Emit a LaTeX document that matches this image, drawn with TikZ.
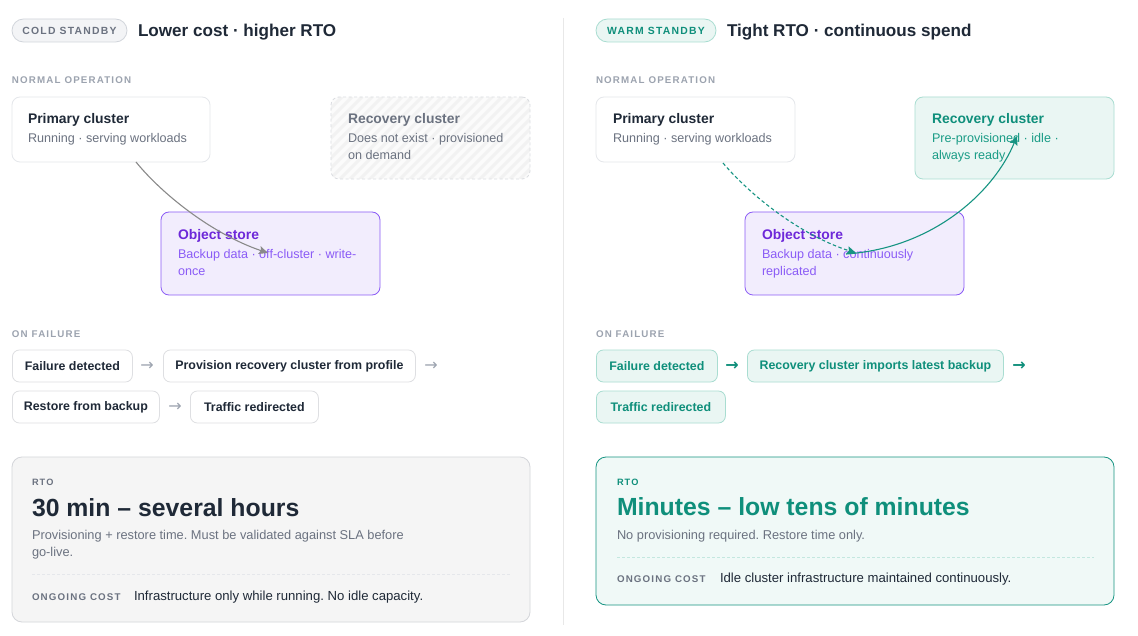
\documentclass[tikz,border=0pt]{standalone}
\usepackage{fontspec}
\setmainfont{Liberation Sans}
\newfontfamily\spacedfont[LetterSpace=12]{Liberation Sans}
\newfontfamily\arrowfont{DejaVu Sans}
\usetikzlibrary{arrows.meta}
\frenchspacing
\definecolor{ink}{HTML}{1F2937}
\definecolor{muted}{HTML}{6B7280}
\definecolor{faint}{HTML}{9CA3AF}
\definecolor{cardline}{HTML}{E5E7EB}
\definecolor{stepline}{HTML}{DEDFE2}
\definecolor{pillbg}{HTML}{F3F4F6}
\definecolor{pillbd}{HTML}{D1D5DB}
\definecolor{tealtx}{HTML}{0F8F7B}
\definecolor{tealsub}{HTML}{1A9C86}
\definecolor{tealbg}{HTML}{EAF6F3}
\definecolor{tealbd}{HTML}{A9DDD1}
\definecolor{tealline}{HTML}{169482}
\definecolor{purpbd}{HTML}{8B5CF6}
\definecolor{purptx}{HTML}{6D28D9}
\definecolor{purpsub}{HTML}{8B5CF6}
\definecolor{purpbg}{HTML}{F2EDFD}
\definecolor{hatchbg}{HTML}{FBFBFB}
\definecolor{hatchln}{HTML}{F2F2F2}
\definecolor{hatchbd}{HTML}{DADCE0}
\definecolor{rtobg}{HTML}{F5F5F5}
\definecolor{rtobd}{HTML}{D4D6DA}
\definecolor{sepline}{HTML}{E8E8E8}
\definecolor{arrowgray}{HTML}{8A8A8A}
\begin{document}
\begin{tikzpicture}[x=1pt,y=-1pt,
  lbl/.style={anchor=base west, inner sep=0, outer sep=0},
  ctitle/.style={lbl, font=\bfseries\fontsize{13.9}{16}\selectfont, text=ink},
  csub/.style={lbl, font=\fontsize{12.6}{15}\selectfont, text=muted},
  caps/.style={lbl, font=\spacedfont\bfseries\fontsize{9.75}{11}\selectfont, text=faint},
  headline/.style={lbl, font=\bfseries\fontsize{17.1}{20}\selectfont, text=ink},
  pill/.style={draw=pillbd, fill=pillbg, rounded corners=11.5pt, line width=0.8pt, minimum height=23, inner sep=0,
     font=\spacedfont\bfseries\fontsize{10.4}{12}\selectfont, text=muted},
  card/.style={draw=cardline, fill=white, rounded corners=8pt, line width=0.8pt, anchor=north west, inner sep=0, outer sep=0},
  stepL/.style={draw=stepline, fill=white, rounded corners=7pt, line width=0.8pt, anchor=west, minimum height=32,
     inner sep=0, font=\bfseries\fontsize{12.4}{14}\selectfont, text=ink},
  stepR/.style={stepL, draw=tealbd, fill=tealbg, text=tealtx},
  arrowtxtL/.style={inner sep=0, font=\arrowfont\fontsize{16}{18}\selectfont, text=faint},
  arrowtxtR/.style={inner sep=0, font=\arrowfont\bfseries\fontsize{16}{18}\selectfont, text=tealtx},
  bigtxt/.style={lbl, font=\bfseries\fontsize{24.8}{28}\selectfont, text=ink},
  desc/.style={lbl, font=\fontsize{12.8}{15}\selectfont, text=muted},
  costtxt/.style={lbl, font=\fontsize{13.15}{15}\selectfont, text=ink},
  flow/.style={line width=1.1pt, -{Stealth[length=9pt,width=8pt,inset=1.5pt]}}
]
\useasboundingbox[fill=white] (0,0) rectangle (1138,636);

% column separator
\draw[sepline, line width=0.8pt] (563,18) -- (563,625);

% ================= LEFT: COLD STANDBY =================
\node[pill, minimum width=115] (lpill) at (69.5,30.5) {COLD STANDBY};
\node[headline] (lhead) at (138,37) {Lower cost · higher RTO};
\node[caps] (lnorm) at (12,83.5) {NORMAL OPERATION};

\node[card, minimum width=198, minimum height=65] (lprim) at (12,97) {};
\node[ctitle] (lprimt) at (28,123.5) {Primary cluster};
\node[csub] (lprims) at (28,142.5) {Running · serving workloads};

% hatched recovery cluster
\begin{scope}
  \clip[rounded corners=8pt] (331,97) rectangle (530,179);
  \fill[hatchbg] (331,97) rectangle (530,179);
  \foreach \i in {240,250,...,540} {
    \draw[hatchln, line width=3pt] (\i,179) -- ++(82,-82);
  }
\end{scope}
\node[card, fill=none, draw=hatchbd, dash pattern=on 3pt off 2.5pt, minimum width=199, minimum height=82] (lrec) at (331,97) {};
\node[ctitle, text=muted] (lrect) at (348,123.5) {Recovery cluster};
\node[csub] (lrecs1) at (348,142.5) {Does not exist · provisioned};
\node[csub] (lrecs2) at (348,159.5) {on demand};

\node[card, draw=purpbd, fill=purpbg, minimum width=219, minimum height=83] (lobj) at (161,212) {};
\node[ctitle, text=purptx] (lobjt) at (178,239.5) {Object store};
\node[csub, text=purpsub] (lobjs1) at (178,258.5) {Backup data · off-cluster · write-};
\node[csub, text=purpsub] (lobjs2) at (178,275.5) {once};

\coordinate (lstart) at (136,162);
\coordinate (lend) at (268,253);
\draw[flow, arrowgray] (lstart) .. controls (162,194) and (212,234) .. (lend);

% on failure
\node[caps] (lfail) at (12,337.5) {ON FAILURE};
\node[stepL, minimum width=120] (ls1) at (12,366) {Failure detected};
\node[arrowtxtL] (la1) at (147,366) {→};
\node[stepL, minimum width=252] (ls2) at (163,366) {Provision recovery cluster from profile};
\node[arrowtxtL] (la2) at (431,366) {→};
\node[stepL, minimum width=147] (ls3) at (12,407) {Restore from backup};
\node[arrowtxtL] (la3) at (175,407) {→};
\node[stepL, minimum width=128] (ls4) at (190,407) {Traffic redirected};

% RTO card
\node[card, draw=rtobd, fill=rtobg, rounded corners=10pt, minimum width=518, minimum height=165] (lrto) at (12,457) {};
\node[caps, text=muted, font=\spacedfont\bfseries\fontsize{9.2}{11}\selectfont] (lrtol) at (32,485.5) {RTO};
\node[bigtxt] (lrtov) at (32,516) {30 min – several hours};
\node[desc] (lrtod1) at (32,539.5) {Provisioning + restore time. Must be validated against SLA before};
\node[desc] (lrtod2) at (32,556.5) {go-live.};
\coordinate (lsepa) at (32,574);
\coordinate (lsepb) at (510,574);
\draw[cardline, line width=0.7pt, dash pattern=on 3pt off 2pt] (lsepa) -- (lsepb);
\node[caps, text=muted] (lcostl) at (32,600) {ONGOING COST};
\node[costtxt] (lcost) at (134,600) {Infrastructure only while running. No idle capacity.};

% ================= RIGHT: WARM STANDBY =================
\node[pill, draw=tealbd, fill=tealbg, text=tealtx, minimum width=120] (rpill) at (656,30.5) {WARM STANDBY};
\node[headline] (rhead) at (727,37) {Tight RTO · continuous spend};
\node[caps] (rnorm) at (596,83.5) {NORMAL OPERATION};

\node[card, minimum width=199, minimum height=65] (rprim) at (596,97) {};
\node[ctitle] (rprimt) at (613,123.5) {Primary cluster};
\node[csub] (rprims) at (613,142.5) {Running · serving workloads};

\node[card, draw=tealbd, fill=tealbg, minimum width=199, minimum height=82] (rrec) at (915,97) {};
\node[ctitle, text=tealtx] (rrect) at (932,123.5) {Recovery cluster};
\node[csub, text=tealsub] (rrecs1) at (932,142.5) {Pre-provisioned · idle ·};
\node[csub, text=tealsub] (rrecs2) at (932,159.5) {always ready};

\node[card, draw=purpbd, fill=purpbg, minimum width=219, minimum height=83] (robj) at (745,212) {};
\node[ctitle, text=purptx] (robjt) at (762,239.5) {Object store};
\node[csub, text=purpsub] (robjs1) at (762,258.5) {Backup data · continuously};
\node[csub, text=purpsub] (robjs2) at (762,275.5) {replicated};

\coordinate (rstart) at (723,163);
\coordinate (rend) at (856,253);
\draw[flow, tealline, dash pattern=on 3.5pt off 2.5pt] (rstart) .. controls (750,195) and (800,235) .. (rend);
\coordinate (rstart2) at (846,254);
\coordinate (rend2) at (1017,136);
\draw[flow, tealline] (rstart2) .. controls (935,248) and (995,190) .. (rend2);

% on failure
\node[caps] (rfail) at (596,337.5) {ON FAILURE};
\node[stepR, minimum width=121] (rs1) at (596,366) {Failure detected};
\node[arrowtxtR] (ra1) at (732,366) {→};
\node[stepR, minimum width=256] (rs2) at (747,366) {Recovery cluster imports latest backup};
\node[arrowtxtR] (ra2) at (1019,366) {→};
\node[stepR, minimum width=129] (rs3) at (596,407) {Traffic redirected};

% RTO card
\node[card, draw=tealline, fill=tealbg!70!white, rounded corners=10pt, minimum width=518, minimum height=148] (rrto) at (596,457) {};
\node[caps, text=tealtx, font=\spacedfont\bfseries\fontsize{9.2}{11}\selectfont] (rrtol) at (617,485.5) {RTO};
\node[bigtxt, text=tealtx] (rrtov) at (617,515) {Minutes – low tens of minutes};
\node[desc] (rrtod1) at (617,539.5) {No provisioning required. Restore time only.};
\coordinate (rsepa) at (617,557);
\coordinate (rsepb) at (1094,557);
\draw[tealbd!70!white, line width=0.7pt, dash pattern=on 3pt off 2pt] (rsepa) -- (rsepb);
\node[caps, text=muted] (rcostl) at (617,582) {ONGOING COST};
\node[costtxt] (rcost) at (720,582) {Idle cluster infrastructure maintained continuously.};

\end{tikzpicture}
\end{document}
